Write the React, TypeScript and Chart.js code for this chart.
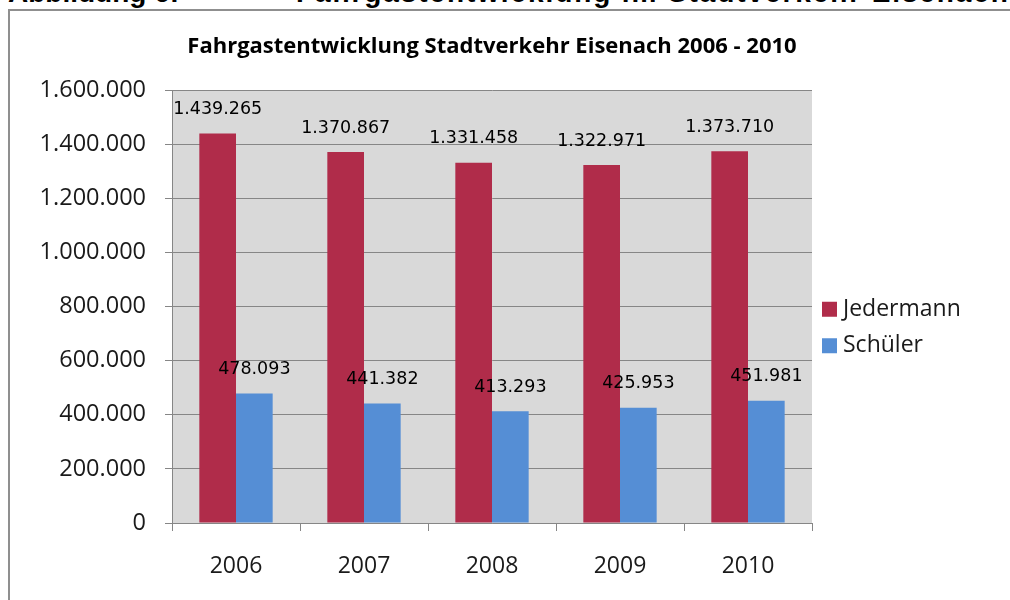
import React, { useEffect, useRef } from "react";
import { Chart, registerables } from "chart.js";

Chart.register(...registerables);

const years = ["2006", "2007", "2008", "2009", "2010"];
const jedermann = [1439265, 1370867, 1331458, 1322971, 1373710];
const schueler = [478093, 441382, 413293, 425953, 451981];
const seriesNames = ["Jedermann", "Schüler"];
const seriesColors = ["#B02C4A", "#558ED5"];
const chartTitle = "Fahrgastentwicklung Stadtverkehr Eisenach 2006 - 2010";
const yMax = 1600000;
const yStep = 200000;

const fmt = (v: number) => String(Math.round(v)).replace(/\B(?=(\d{3})+(?!\d))/g, ".");

const AXIS_FONT = "'Open Sans', 'Liberation Sans', sans-serif";

const plotBg = {
  id: "plotBg",
  beforeDraw(chart: any) {
    const { ctx, chartArea: a } = chart;
    ctx.save();
    ctx.fillStyle = "#D9D9D9";
    ctx.fillRect(a.left, a.top, a.right - a.left, a.bottom - a.top);
    ctx.restore();
  },
};

const valueLabels = {
  id: "valueLabels",
  afterDatasetsDraw(chart: any) {
    const { ctx } = chart;
    ctx.save();
    ctx.font = "17.5px 'DejaVu Sans', sans-serif";
    ctx.fillStyle = "#000";
    ctx.textAlign = "center";
    ctx.textBaseline = "middle";
    chart.data.datasets.forEach((ds: any, i: number) => {
      const meta = chart.getDatasetMeta(i);
      meta.data.forEach((bar: any, j: number) => {
        ctx.fillText(fmt(ds.data[j]), bar.x, bar.y - 24);
      });
    });
    ctx.restore();
  },
};

const sideLegend = {
  id: "sideLegend",
  afterDraw(chart: any) {
    const { ctx, chartArea: a } = chart;
    const mid = (a.top + a.bottom) / 2 + 21;
    const gap = 36.5;
    ctx.save();
    ctx.font = `23px ${AXIS_FONT}`;
    ctx.textBaseline = "middle";
    ctx.textAlign = "left";
    chart.data.datasets.forEach((ds: any, i: number) => {
      const cy = mid + (i - (chart.data.datasets.length - 1) / 2) * gap;
      ctx.fillStyle = ds.backgroundColor;
      ctx.fillRect(a.right + 10, cy - 7.5, 15, 15);
      ctx.fillStyle = "#1a1a1a";
      ctx.fillText(ds.label, a.right + 31, cy);
    });
    ctx.restore();
  },
};

function BarChart() {
  const ref = useRef<HTMLCanvasElement>(null);
  useEffect(() => {
    if (!ref.current) return;
    const chart = new Chart(ref.current, {
      type: "bar",
      data: {
        labels: years,
        datasets: [
          { label: seriesNames[0], data: jedermann, backgroundColor: seriesColors[0] },
          { label: seriesNames[1], data: schueler, backgroundColor: seriesColors[1] },
        ],
      },
      options: {
        animation: false,
        responsive: false,
        maintainAspectRatio: false,
        devicePixelRatio: 1,
        layout: { padding: { left: 0, right: 198, top: 0, bottom: 0 } },
        datasets: {
          bar: { categoryPercentage: 0.573, barPercentage: 1, borderWidth: 0 },
        },
        plugins: {
          legend: { display: false },
          tooltip: { enabled: false },
          title: {
            display: true,
            text: chartTitle,
            fullSize: false,
            color: "#000",
            font: { family: AXIS_FONT, size: 22, weight: "bold", lineHeight: 1.2 },
            padding: { top: 22.8, bottom: 29.8 },
          },
        },
        scales: {
          x: {
            grid: {
              offset: true,
              drawOnChartArea: false,
              drawTicks: true,
              tickLength: 8,
              color: "#868686",
            },
            border: { display: true, color: "#868686" },
            ticks: {
              color: "#1a1a1a",
              font: { family: AXIS_FONT, size: 23 },
              padding: 22,
              maxRotation: 0,
            },
            afterFit(scale: any) {
              scale.height = 77;
            },
          },
          y: {
            min: 0,
            max: yMax,
            ticks: {
              stepSize: yStep,
              color: "#1a1a1a",
              font: { family: AXIS_FONT, size: 23.5 },
              padding: 19,
              callback: (v: any) => fmt(Number(v)),
            },
            grid: { color: "#868686", tickLength: 7, lineWidth: 1 },
            border: { display: true, color: "#868686" },
            afterFit(scale: any) {
              scale.width = 162;
            },
          },
        },
      },
      plugins: [plotBg, valueLabels, sideLegend],
    });
    return () => chart.destroy();
  }, []);
  return (
    <canvas
      ref={ref}
      width={1000}
      height={589}
      style={{ position: "absolute", left: 10, top: 11, width: 1000, height: 589 }}
    />
  );
}

export default function App() {
  const headFont = "bold 28px 'Liberation Sans', Arial, sans-serif";
  return (
    <div
      style={{
        position: "absolute",
        left: 0,
        top: 0,
        width: 1010,
        height: 600,
        overflow: "hidden",
        background: "#fff",
      }}
    >
      <div style={{ position: "absolute", left: 8, top: -21, font: headFont, lineHeight: "28px", whiteSpace: "nowrap", color: "#000" }}>
        Abbildung 6:
      </div>
      <div
        style={{
          position: "absolute",
          left: 296,
          top: -21,
          font: headFont,
          lineHeight: "28px",
          letterSpacing: "1.9px",
          whiteSpace: "nowrap",
          color: "#000",
        }}
      >
        Fahrgastentwicklung im Stadtverkehr Eisenach
      </div>
      <div
        style={{
          position: "absolute",
          left: 8,
          top: 9,
          width: 1020,
          height: 620,
          border: "2px solid #8f8f8f",
          boxSizing: "border-box",
        }}
      />
      <BarChart />
    </div>
  );
}
